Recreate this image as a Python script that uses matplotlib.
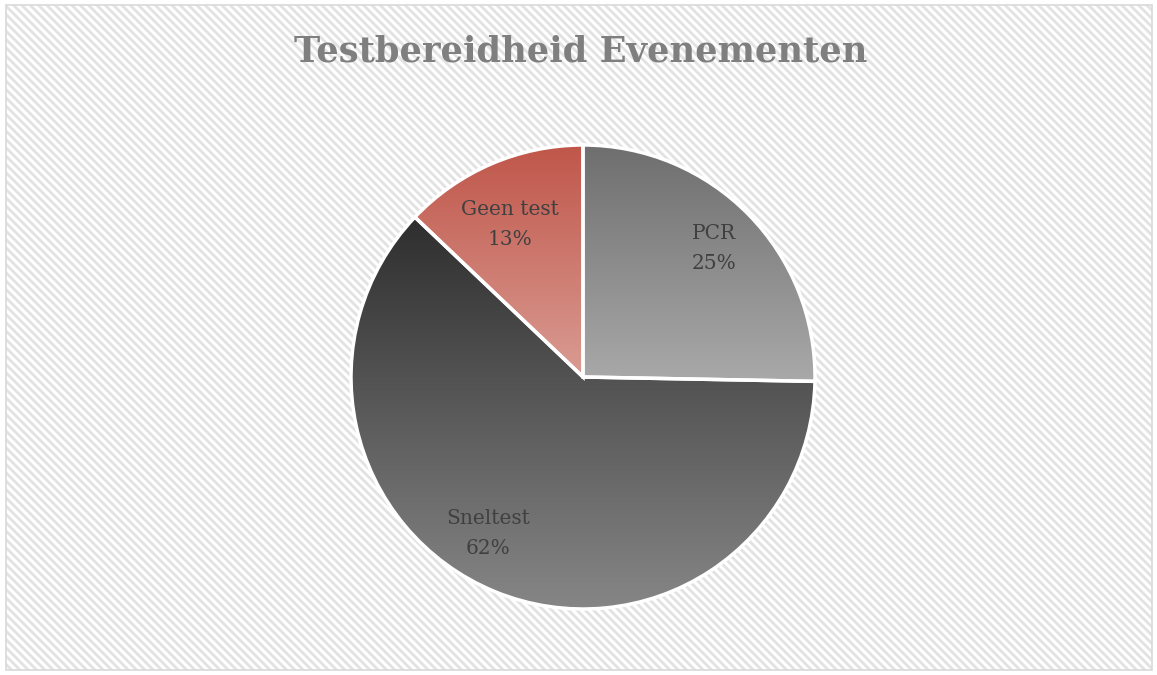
import matplotlib.pyplot as plt
import matplotlib.patches as mpatches
import matplotlib.colors as mcolors
import numpy as np

# -------------------------------
# Data
# -------------------------------
categories = ["PCR", "Sneltest", "Geen test"]
shares = [25.3, 61.8, 12.9]
pct_labels = ["25%", "62%", "13%"]

# vertical gradient per slice (top colour, bottom colour)
grad_top = ["#6e6e6e", "#2e2e2e", "#c0564a"]
grad_bottom = ["#a9a9a9", "#868686", "#da9c93"]

# label placement tweaks (angle offset in degrees, radius fraction)
label_shift = [0.0, -9.0, 2.5]
label_radius = [0.79, 0.79, 0.73]

plt.rcParams['hatch.linewidth'] = 2.0

W, H = 1157, 675
fig = plt.figure(figsize=(W / 100, H / 100), dpi=100)
fig.patch.set_facecolor("white")

# -------------------------------
# Striped background + border
# -------------------------------
bx0, by0, bx1, by1 = 6 / W, 5 / H, 1152 / W, 670 / H
bg = mpatches.Rectangle((bx0, 1 - by1), bx1 - bx0, by1 - by0, transform=fig.transFigure,
                        facecolor="white", edgecolor="#e2e2e2", hatch="\\\\\\\\", linewidth=0,
                        zorder=-2)
fig.patches.append(bg)
border = mpatches.Rectangle((bx0, 1 - by1), bx1 - bx0, by1 - by0, transform=fig.transFigure,
                            facecolor="none", edgecolor="#d9d9d9", linewidth=1.2, zorder=-1)
fig.patches.append(border)

# -------------------------------
# Pie
# -------------------------------
cx, cy, r = 583, 377, 232
ax = fig.add_axes([(cx - r) / W, (H - cy - r) / H, 2 * r / W, 2 * r / H])
ax.patch.set_visible(False)

wedges, _ = ax.pie(shares, startangle=90, counterclock=False, radius=1.0,
                   wedgeprops=dict(facecolor="none", edgecolor="white", linewidth=2.5, zorder=3))

for i, w in enumerate(wedges):
    # gradient image clipped to the wedge
    bb = w.get_path().get_extents(w.get_patch_transform())
    c0 = np.array(mcolors.to_rgb(grad_top[i]))
    c1 = np.array(mcolors.to_rgb(grad_bottom[i]))
    t = np.linspace(0, 1, 256)[:, None]
    img = (c0[None, :] * (1 - t) + c1[None, :] * t)[:, None, :]
    im = ax.imshow(img, extent=[bb.x0, bb.x1, bb.y0, bb.y1], origin="upper",
                   aspect="auto", zorder=2, interpolation="bilinear")
    im.set_clip_path(w)

    mid = np.deg2rad((w.theta1 + w.theta2) / 2 + label_shift[i])
    lx = label_radius[i] * np.cos(mid)
    ly = label_radius[i] * np.sin(mid)
    ax.text(lx, ly, f"{categories[i]}\n{pct_labels[i]}", ha="center", va="center",
            fontsize=14.5, color="#404040", family="DejaVu Serif", linespacing=1.7, zorder=4)

ax.set_xlim(-1, 1)
ax.set_ylim(-1, 1)
ax.set_aspect("equal")
ax.axis("off")

fig.text(581 / W, 1 - 51 / H, "Testbereidheid Evenementen", ha="center", va="center",
         fontsize=25.4, fontweight="bold", color="#7f7f7f", family="DejaVu Serif")

fig.savefig("out.png", dpi=100)
